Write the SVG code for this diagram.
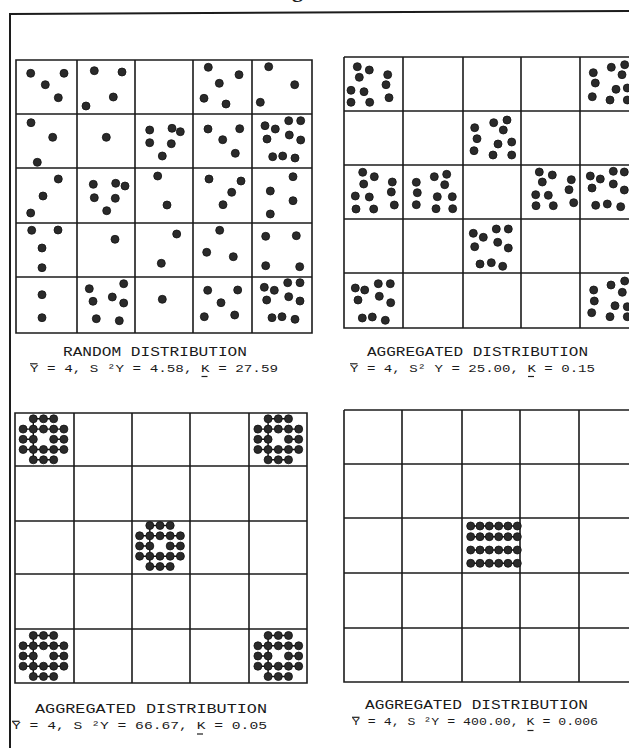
<svg xmlns="http://www.w3.org/2000/svg" width="629" height="748" viewBox="0 0 629 748">
<style>
.frame{stroke:#1c1c1c;stroke-width:2;fill:none}
.grid{stroke:#1c1c1c;stroke-width:1.6;fill:none}
.dot{fill:#2a2a2a;stroke:#111;stroke-width:0.8}
.link{stroke:#111;stroke-width:1.4;fill:none}
.title{font-family:"Liberation Mono","DejaVu Sans Mono",monospace;font-size:12.5px;fill:#1a1a1a}
.stat{font-family:"Liberation Mono","DejaVu Sans Mono",monospace;font-size:11.5px;fill:#1a1a1a}
.bar{stroke:#1e1e1e;stroke-width:1.2}
</style>
<defs>
<g id="rosette">
<path class="link" d="M-10.2,-20.5H10.2M-20.4,-10.2H20.4M-20.4,0H-10.2M10.2,0H20.4M-20.4,10.2H20.4M-10.2,20.5H10.2M-10.2,-20.5V20.5"/>
<circle class="dot" cx="-10.2" cy="-20.5" r="4"/><circle class="dot" cx="0" cy="-20.5" r="4"/><circle class="dot" cx="10.2" cy="-20.5" r="4"/>
<circle class="dot" cx="-20.4" cy="-10.2" r="4"/><circle class="dot" cx="-10.2" cy="-10.2" r="4"/><circle class="dot" cx="0" cy="-10.2" r="4"/><circle class="dot" cx="10.2" cy="-10.2" r="4"/><circle class="dot" cx="20.4" cy="-10.2" r="4"/>
<circle class="dot" cx="-20.4" cy="0" r="4"/><circle class="dot" cx="-10.2" cy="0" r="4"/><circle class="dot" cx="10.2" cy="0" r="4"/><circle class="dot" cx="20.4" cy="0" r="4"/>
<circle class="dot" cx="-20.4" cy="10.2" r="4"/><circle class="dot" cx="-10.2" cy="10.2" r="4"/><circle class="dot" cx="0" cy="10.2" r="4"/><circle class="dot" cx="10.2" cy="10.2" r="4"/><circle class="dot" cx="20.4" cy="10.2" r="4"/>
<circle class="dot" cx="-10.2" cy="20.5" r="4"/><circle class="dot" cx="0" cy="20.5" r="4"/><circle class="dot" cx="10.2" cy="20.5" r="4"/>
</g>
</defs>
<rect width="629" height="748" fill="#ffffff"/>
<text x="292" y="-3" font-family="Liberation Serif,serif" font-size="22" font-weight="bold" fill="#1e1e1e">g</text>
<g id="frame">
<path class="frame" d="M10,748V14L629,11"/>
</g>
<g id="connectors"></g>

<g id="random-distribution">
<path class="grid" d="M16,60H312V333H16Z M77,60V333 M135,60V333 M193,60V333 M252,60V333 M16,114H312 M16,168H312 M16,223H312 M16,277H312"/>
<g>
<circle class="dot" cx="30.7" cy="73.3" r="4"/><circle class="dot" cx="64" cy="73.3" r="4"/><circle class="dot" cx="45.3" cy="84.7" r="4"/><circle class="dot" cx="58.3" cy="97.7" r="4"/>
<circle class="dot" cx="94.3" cy="70.7" r="4"/><circle class="dot" cx="122" cy="72" r="4"/><circle class="dot" cx="113.3" cy="97" r="4"/><circle class="dot" cx="86" cy="106" r="4"/>
<circle class="dot" cx="208.3" cy="67.3" r="4"/><circle class="dot" cx="239" cy="74.7" r="4"/><circle class="dot" cx="219.3" cy="83.3" r="4"/><circle class="dot" cx="204" cy="98.3" r="4"/><circle class="dot" cx="226" cy="104" r="4"/>
<circle class="dot" cx="268.7" cy="66.7" r="4"/><circle class="dot" cx="294.7" cy="84.7" r="4"/><circle class="dot" cx="260.3" cy="102.3" r="4"/>
<circle class="dot" cx="31" cy="122.7" r="4"/><circle class="dot" cx="52.7" cy="137.3" r="4"/><circle class="dot" cx="37.3" cy="162.3" r="4"/>
<circle class="dot" cx="106.3" cy="137.3" r="4"/>
<circle class="dot" cx="149.7" cy="130" r="4"/><circle class="dot" cx="172" cy="128.3" r="4"/><circle class="dot" cx="180.3" cy="131.7" r="4"/><circle class="dot" cx="149.7" cy="142.7" r="4"/><circle class="dot" cx="171.3" cy="143.7" r="4"/><circle class="dot" cx="162.3" cy="156" r="4"/>
<circle class="dot" cx="208" cy="129" r="4"/><circle class="dot" cx="239.7" cy="128.7" r="4"/><circle class="dot" cx="222.7" cy="139.7" r="4"/><circle class="dot" cx="235.3" cy="153.3" r="4"/>
<circle class="dot" cx="265" cy="125.7" r="4"/><circle class="dot" cx="275.3" cy="129" r="4"/><circle class="dot" cx="288.7" cy="120.7" r="4"/><circle class="dot" cx="300.7" cy="120.7" r="4"/><circle class="dot" cx="267" cy="139" r="4"/><circle class="dot" cx="289.3" cy="135" r="4"/><circle class="dot" cx="300.7" cy="140" r="4"/><circle class="dot" cx="272.7" cy="156.7" r="4"/><circle class="dot" cx="282.7" cy="156" r="4"/><circle class="dot" cx="295" cy="158" r="4"/>
<circle class="dot" cx="58.3" cy="179" r="4"/><circle class="dot" cx="43" cy="196" r="4"/><circle class="dot" cx="30.7" cy="213" r="4"/>
<circle class="dot" cx="93.3" cy="184.3" r="4"/><circle class="dot" cx="115.7" cy="183.3" r="4"/><circle class="dot" cx="125" cy="186" r="4"/><circle class="dot" cx="94.3" cy="197.7" r="4"/><circle class="dot" cx="115.3" cy="198.3" r="4"/><circle class="dot" cx="106.7" cy="210.7" r="4"/>
<circle class="dot" cx="157.7" cy="176" r="4"/><circle class="dot" cx="167" cy="205" r="4"/>
<circle class="dot" cx="209" cy="179" r="4"/><circle class="dot" cx="241" cy="181" r="4"/><circle class="dot" cx="231.7" cy="192.3" r="4"/><circle class="dot" cx="223" cy="204.7" r="4"/>
<circle class="dot" cx="293" cy="176.7" r="4"/><circle class="dot" cx="270.3" cy="191" r="4"/><circle class="dot" cx="293" cy="200.7" r="4"/><circle class="dot" cx="270.3" cy="214" r="4"/>
<circle class="dot" cx="31.7" cy="230.3" r="4"/><circle class="dot" cx="58" cy="230" r="4"/><circle class="dot" cx="42" cy="248" r="4"/><circle class="dot" cx="42" cy="267.7" r="4"/>
<circle class="dot" cx="115" cy="239.3" r="4"/>
<circle class="dot" cx="176.7" cy="234" r="4"/><circle class="dot" cx="161.3" cy="263.3" r="4"/>
<circle class="dot" cx="219.7" cy="230.3" r="4"/><circle class="dot" cx="206.7" cy="252.3" r="4"/><circle class="dot" cx="233.3" cy="256.7" r="4"/>
<circle class="dot" cx="265.7" cy="236.3" r="4"/><circle class="dot" cx="296.3" cy="235.7" r="4"/><circle class="dot" cx="265.7" cy="265.7" r="4"/><circle class="dot" cx="299.7" cy="266.7" r="4"/>
<circle class="dot" cx="42" cy="294.7" r="4"/><circle class="dot" cx="42" cy="317.7" r="4"/>
<circle class="dot" cx="89.3" cy="288.7" r="4"/><circle class="dot" cx="123.7" cy="283.7" r="4"/><circle class="dot" cx="112.3" cy="297" r="4"/><circle class="dot" cx="93" cy="301.3" r="4"/><circle class="dot" cx="123.7" cy="303" r="4"/><circle class="dot" cx="96.3" cy="318.7" r="4"/><circle class="dot" cx="119.3" cy="320.7" r="4"/>
<circle class="dot" cx="162.3" cy="299.3" r="4"/>
<circle class="dot" cx="207.7" cy="290.3" r="4"/><circle class="dot" cx="237.7" cy="290" r="4"/><circle class="dot" cx="221" cy="302.7" r="4"/><circle class="dot" cx="204.3" cy="316.7" r="4"/><circle class="dot" cx="234.7" cy="315" r="4"/>
<circle class="dot" cx="264.3" cy="287.3" r="4"/><circle class="dot" cx="274.3" cy="290.3" r="4"/><circle class="dot" cx="287.7" cy="282.7" r="4"/><circle class="dot" cx="300" cy="282.7" r="4"/><circle class="dot" cx="266.7" cy="300" r="4"/><circle class="dot" cx="288.7" cy="296.7" r="4"/><circle class="dot" cx="300" cy="301" r="4"/><circle class="dot" cx="272" cy="317.7" r="4"/><circle class="dot" cx="282" cy="316.7" r="4"/><circle class="dot" cx="295" cy="319.3" r="4"/>
</g>
<text class="title" x="63" y="356" textLength="184" lengthAdjust="spacingAndGlyphs">RANDOM DISTRIBUTION</text>
<text class="stat" x="30" y="371.5" textLength="248" lengthAdjust="spacingAndGlyphs">Y = 4, S ²Y = 4.58, K = 27.59</text>
<line class="bar" x1="30" y1="363.8" x2="37.5" y2="363.8"/>
<line class="bar" x1="201.5" y1="376.5" x2="207.5" y2="376.5"/>
</g>

<g id="aggregated-distribution-1">
<path class="grid" d="M344,57H640 M344,57V328H640 M403,57V328 M463,57V328 M521,57V328 M580,57V328 M344,111H640 M344,165H640 M344,219H640 M344,273H640"/>
<g>
<circle class="dot" cx="357.3" cy="66.7" r="4"/><circle class="dot" cx="369.3" cy="70" r="4"/><circle class="dot" cx="359.3" cy="77.3" r="4"/><circle class="dot" cx="387.7" cy="74.7" r="4"/><circle class="dot" cx="386" cy="84.7" r="4"/><circle class="dot" cx="351" cy="90.3" r="4"/><circle class="dot" cx="364" cy="91.7" r="4"/><circle class="dot" cx="389" cy="97.7" r="4"/><circle class="dot" cx="351" cy="102.3" r="4"/><circle class="dot" cx="369.7" cy="102.3" r="4"/>
<circle class="dot" cx="611.3" cy="67.3" r="4"/><circle class="dot" cx="624.7" cy="64.7" r="4"/><circle class="dot" cx="593.3" cy="72.7" r="4"/><circle class="dot" cx="622" cy="74.7" r="4"/><circle class="dot" cx="595.3" cy="83" r="4"/><circle class="dot" cx="616" cy="89.3" r="4"/><circle class="dot" cx="627.3" cy="88" r="4"/><circle class="dot" cx="592.3" cy="96.7" r="4"/><circle class="dot" cx="610" cy="100" r="4"/><circle class="dot" cx="627.3" cy="100" r="4"/>
<circle class="dot" cx="493.7" cy="122.7" r="4"/><circle class="dot" cx="507" cy="120" r="4"/><circle class="dot" cx="474.7" cy="127.7" r="4"/><circle class="dot" cx="503.3" cy="130" r="4"/><circle class="dot" cx="477" cy="138.7" r="4"/><circle class="dot" cx="511.7" cy="142" r="4"/><circle class="dot" cx="498" cy="144" r="4"/><circle class="dot" cx="474" cy="150.7" r="4"/><circle class="dot" cx="493" cy="155" r="4"/><circle class="dot" cx="511.7" cy="155" r="4"/>
<circle class="dot" cx="362.7" cy="172.3" r="4"/><circle class="dot" cx="374.3" cy="176.7" r="4"/><circle class="dot" cx="363.7" cy="184" r="4"/><circle class="dot" cx="392.3" cy="182" r="4"/><circle class="dot" cx="391.3" cy="192" r="4"/><circle class="dot" cx="355.3" cy="196" r="4"/><circle class="dot" cx="369.3" cy="197" r="4"/><circle class="dot" cx="394.3" cy="205" r="4"/><circle class="dot" cx="356" cy="209" r="4"/><circle class="dot" cx="373.7" cy="209" r="4"/>
<circle class="dot" cx="434.3" cy="176.7" r="4"/><circle class="dot" cx="446.7" cy="174.3" r="4"/><circle class="dot" cx="416.3" cy="182.3" r="4"/><circle class="dot" cx="444.7" cy="184.7" r="4"/><circle class="dot" cx="417.3" cy="192.7" r="4"/><circle class="dot" cx="437.3" cy="196.7" r="4"/><circle class="dot" cx="452.3" cy="196.7" r="4"/><circle class="dot" cx="416.3" cy="204.7" r="4"/><circle class="dot" cx="436" cy="208.7" r="4"/><circle class="dot" cx="452.7" cy="208.7" r="4"/>
<circle class="dot" cx="539.3" cy="172" r="4"/><circle class="dot" cx="552.3" cy="175" r="4"/><circle class="dot" cx="542.3" cy="182" r="4"/><circle class="dot" cx="571.3" cy="179.7" r="4"/><circle class="dot" cx="569" cy="189.7" r="4"/><circle class="dot" cx="535.7" cy="194.7" r="4"/><circle class="dot" cx="548.3" cy="195.3" r="4"/><circle class="dot" cx="573.7" cy="202.7" r="4"/><circle class="dot" cx="536" cy="205.7" r="4"/><circle class="dot" cx="553.3" cy="205.7" r="4"/>
<circle class="dot" cx="590.3" cy="176" r="4"/><circle class="dot" cx="600.3" cy="179" r="4"/><circle class="dot" cx="613.3" cy="171.3" r="4"/><circle class="dot" cx="624.3" cy="172" r="4"/><circle class="dot" cx="592" cy="188" r="4"/><circle class="dot" cx="613.3" cy="184" r="4"/><circle class="dot" cx="624.3" cy="190" r="4"/><circle class="dot" cx="595.7" cy="205.3" r="4"/><circle class="dot" cx="607.3" cy="204" r="4"/><circle class="dot" cx="620.7" cy="206.7" r="4"/>
<circle class="dot" cx="473.3" cy="233.3" r="4"/><circle class="dot" cx="483.3" cy="237.3" r="4"/><circle class="dot" cx="496.3" cy="229" r="4"/><circle class="dot" cx="508.3" cy="229" r="4"/><circle class="dot" cx="474.7" cy="246.7" r="4"/><circle class="dot" cx="497.7" cy="242.3" r="4"/><circle class="dot" cx="508.3" cy="248" r="4"/><circle class="dot" cx="480" cy="264" r="4"/><circle class="dot" cx="491.3" cy="262.7" r="4"/><circle class="dot" cx="502.7" cy="266.3" r="4"/>
<circle class="dot" cx="355.3" cy="288" r="4"/><circle class="dot" cx="364.7" cy="290" r="4"/><circle class="dot" cx="378.3" cy="283.7" r="4"/><circle class="dot" cx="390.3" cy="283.7" r="4"/><circle class="dot" cx="358" cy="300" r="4"/><circle class="dot" cx="379.3" cy="296.3" r="4"/><circle class="dot" cx="390.7" cy="302.7" r="4"/><circle class="dot" cx="362.3" cy="318" r="4"/><circle class="dot" cx="372.3" cy="317" r="4"/><circle class="dot" cx="385.3" cy="320.3" r="4"/>
<circle class="dot" cx="611" cy="285" r="4"/><circle class="dot" cx="624.7" cy="281" r="4"/><circle class="dot" cx="593.7" cy="290" r="4"/><circle class="dot" cx="622.3" cy="292.3" r="4"/><circle class="dot" cx="594.3" cy="301" r="4"/><circle class="dot" cx="615" cy="305.7" r="4"/><circle class="dot" cx="627.3" cy="306.7" r="4"/><circle class="dot" cx="591.7" cy="312.7" r="4"/><circle class="dot" cx="610" cy="316.7" r="4"/><circle class="dot" cx="627.3" cy="316.7" r="4"/>
</g>
<text class="title" x="367" y="356" textLength="221" lengthAdjust="spacingAndGlyphs">AGGREGATED DISTRIBUTION</text>
<text class="stat" x="350" y="371.5" textLength="245" lengthAdjust="spacingAndGlyphs">Y = 4, S² Y = 25.00, K = 0.15</text>
<line class="bar" x1="350" y1="363.8" x2="357.5" y2="363.8"/>
<line class="bar" x1="528" y1="376.5" x2="534" y2="376.5"/>
</g>

<g id="aggregated-distribution-2">
<path class="grid" d="M15,413H307V683H15Z M74,413V683 M132,413V683 M190,413V683 M249,413V683 M15,466H307 M15,521H307 M15,574H307 M15,629H307"/>
<use href="#rosette" x="43.5" y="439.3"/>
<use href="#rosette" x="278.3" y="439.3"/>
<use href="#rosette" x="160" y="546"/>
<use href="#rosette" x="43.5" y="656"/>
<use href="#rosette" x="278.3" y="656"/>
<text class="title" x="35" y="713" textLength="232" lengthAdjust="spacingAndGlyphs">AGGREGATED DISTRIBUTION</text>
<text class="stat" x="12" y="729" textLength="255" lengthAdjust="spacingAndGlyphs">Y = 4, S ²Y = 66.67, K = 0.05</text>
<line class="bar" x1="12" y1="721.3" x2="19.5" y2="721.3"/>
<line class="bar" x1="197" y1="734" x2="203" y2="734"/>
</g>

<g id="aggregated-distribution-3">
<path class="grid" d="M344,410H640 M344,410V682H640 M402,410V682 M462,410V682 M520,410V682 M579,410V682 M344,464H640 M344,518H640 M344,573H640 M344,628H640"/>
<g>
<path class="link" d="M470.7,526H517.3M470.7,536.7H517.3M470.7,550H517.3M470.7,563.3H517.3"/>
<circle class="dot" cx="470.7" cy="526" r="4"/><circle class="dot" cx="480" cy="526" r="4"/><circle class="dot" cx="489.3" cy="526" r="4"/><circle class="dot" cx="498.7" cy="526" r="4"/><circle class="dot" cx="508" cy="526" r="4"/><circle class="dot" cx="517.3" cy="526" r="4"/>
<circle class="dot" cx="470.7" cy="536.7" r="4"/><circle class="dot" cx="480" cy="536.7" r="4"/><circle class="dot" cx="489.3" cy="536.7" r="4"/><circle class="dot" cx="498.7" cy="536.7" r="4"/><circle class="dot" cx="508" cy="536.7" r="4"/><circle class="dot" cx="517.3" cy="536.7" r="4"/>
<circle class="dot" cx="470.7" cy="550" r="4"/><circle class="dot" cx="480" cy="550" r="4"/><circle class="dot" cx="489.3" cy="550" r="4"/><circle class="dot" cx="498.7" cy="550" r="4"/><circle class="dot" cx="508" cy="550" r="4"/><circle class="dot" cx="517.3" cy="550" r="4"/>
<circle class="dot" cx="470.7" cy="563.3" r="4"/><circle class="dot" cx="480" cy="563.3" r="4"/><circle class="dot" cx="489.3" cy="563.3" r="4"/><circle class="dot" cx="498.7" cy="563.3" r="4"/><circle class="dot" cx="508" cy="563.3" r="4"/><circle class="dot" cx="517.3" cy="563.3" r="4"/>
</g>
<text class="title" x="365" y="709" textLength="223" lengthAdjust="spacingAndGlyphs">AGGREGATED DISTRIBUTION</text>
<text class="stat" x="352" y="725" textLength="246" lengthAdjust="spacingAndGlyphs">Y = 4, S ²Y = 400.00, K = 0.006</text>
<line class="bar" x1="352" y1="717.3" x2="359.5" y2="717.3"/>
<line class="bar" x1="527.5" y1="730.5" x2="533.5" y2="730.5"/>
</g>
</svg>
